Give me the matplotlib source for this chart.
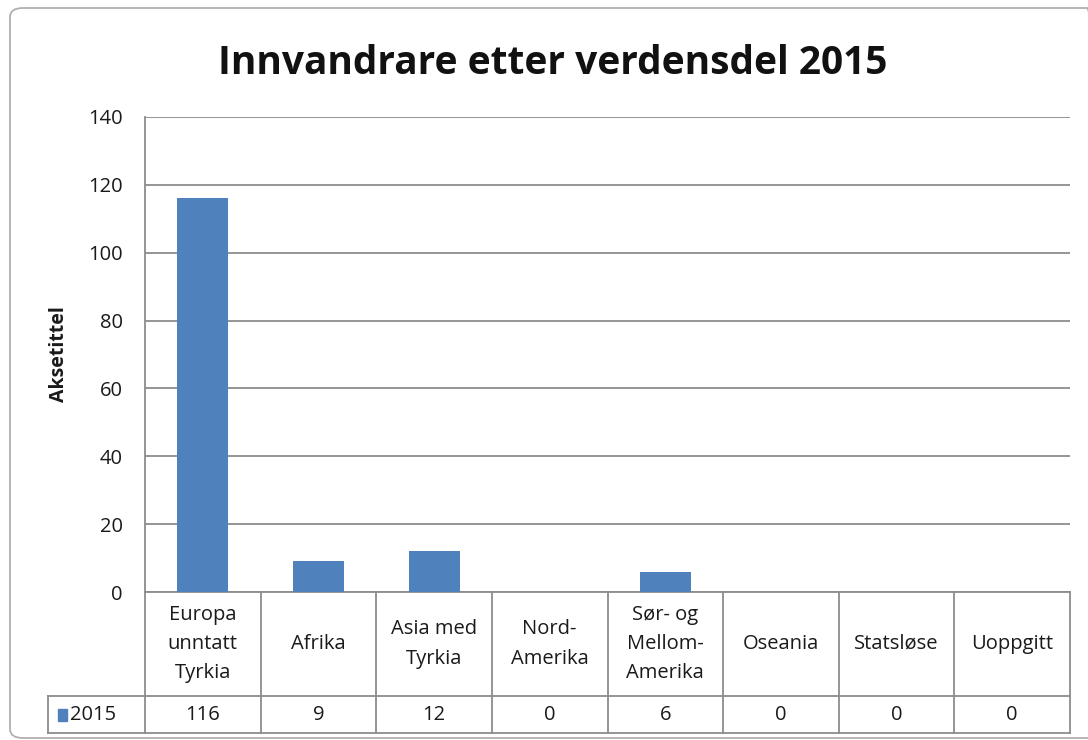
import matplotlib
matplotlib.use("Agg")
import matplotlib.pyplot as plt
from matplotlib.patches import FancyBboxPatch, Rectangle
from matplotlib.lines import Line2D
import matplotlib.transforms as mtransforms

categories = ["Europa\nunntatt\nTyrkia", "Afrika", "Asia med\nTyrkia", "Nord-\nAmerika",
              "Sør- og\nMellom-\nAmerika", "Oseania", "Statsløse", "Uoppgitt"]
values = [116, 9, 12, 0, 6, 0, 0, 0]
series_name = "2015"
yticks = [0, 20, 40, 60, 80, 100, 120, 140]
title = "Innvandrare etter verdensdel 2015"
ylabel = "Aksetittel"

W, H = 1088, 740
FONT = ["Open Sans", "DejaVu Sans"]
plt.rcParams['font.family'] = FONT
bar_color = "#4F81BD"
grid_color = "#8c8c8c"
text_color = "#1a1a1a"
FS = 14.5

fig = plt.figure(figsize=(W / 100, H / 100), dpi=100)

# chart border
border = FancyBboxPatch((10 / W, 1 - 738 / H), (1100 - 10) / W, (738 - 8) / H,
                        boxstyle="round,pad=0,rounding_size=0.012",
                        transform=fig.transFigure, fill=False,
                        edgecolor="#b0b0b0", linewidth=1.3, clip_on=False)
fig.patches.append(border)

left, right, top, bottom = 145, 1070, 117, 592
ax = fig.add_axes([left / W, 1 - bottom / H, (right - left) / W, (bottom - top) / H])
n = len(categories)
x = list(range(n))
ax.bar(x, values, width=0.44, color=bar_color, zorder=3)
ax.set_xlim(-0.5, n - 0.5)
ax.set_ylim(0, 140)
ax.set_yticks(yticks)
ax.set_yticklabels([str(t) for t in yticks], fontsize=FS, color=text_color)
ax.set_xticks([])
ax.tick_params(axis='y', length=0, pad=16)
ax.yaxis.grid(True, color=grid_color, linewidth=1.3, zorder=0)
for s in ["top", "right", "bottom"]:
    ax.spines[s].set_visible(False)
ax.spines["left"].set_color(grid_color)
ax.spines["left"].set_linewidth(1.3)

ax.set_ylabel(ylabel, fontsize=14, fontweight="bold", color=text_color, labelpad=14)

fig.text(553 / W, 1 - 63 / H, title, fontsize=28, fontweight="bold",
         ha="center", va="center", color="#111111")

# data table below the axes
trans = mtransforms.blended_transform_factory(ax.transData, ax.transAxes)
ppx = (right - left) / n  # pixels per category
hdr_left = -0.5 - (left - 48) / ppx
row1_bot = -(696 - bottom) / (bottom - top)
row2_bot = -(733 - bottom) / (bottom - top)
lw = 1.3
lines = []
lines.append(Line2D([-0.5, n - 0.5], [0, 0]))
lines.append(Line2D([hdr_left, n - 0.5], [row1_bot, row1_bot]))
lines.append(Line2D([hdr_left, n - 0.5], [row2_bot, row2_bot]))
for b in range(n + 1):
    lines.append(Line2D([b - 0.5, b - 0.5], [0, row2_bot]))
lines.append(Line2D([hdr_left, hdr_left], [row1_bot, row2_bot]))
for ln in lines:
    ln.set_transform(trans)
    ln.set_color(grid_color)
    ln.set_linewidth(lw)
    ln.set_clip_on(False)
    ax.add_line(ln)

for i, (cat, v) in enumerate(zip(categories, values)):
    ax.text(i, row1_bot / 2, cat, transform=trans, ha="center", va="center",
            fontsize=FS, color=text_color, linespacing=1.62, clip_on=False)
    ax.text(i, (row1_bot + row2_bot) / 2, str(v), transform=trans, ha="center",
            va="center", fontsize=FS, color=text_color, clip_on=False)

# legend key in the header cell
ymid = (row1_bot + row2_bot) / 2
key_w = 9 / ppx
key_h = 12 / (bottom - top)
kx = hdr_left + 10 / ppx
ax.add_patch(Rectangle((kx, ymid - key_h / 2), key_w, key_h, transform=trans,
                       color=bar_color, clip_on=False))
ax.text(kx + key_w + 3 / ppx, ymid, series_name, transform=trans, ha="left",
        va="center", fontsize=FS, color=text_color, clip_on=False)

fig.savefig("out.png", dpi=100, facecolor="white")
